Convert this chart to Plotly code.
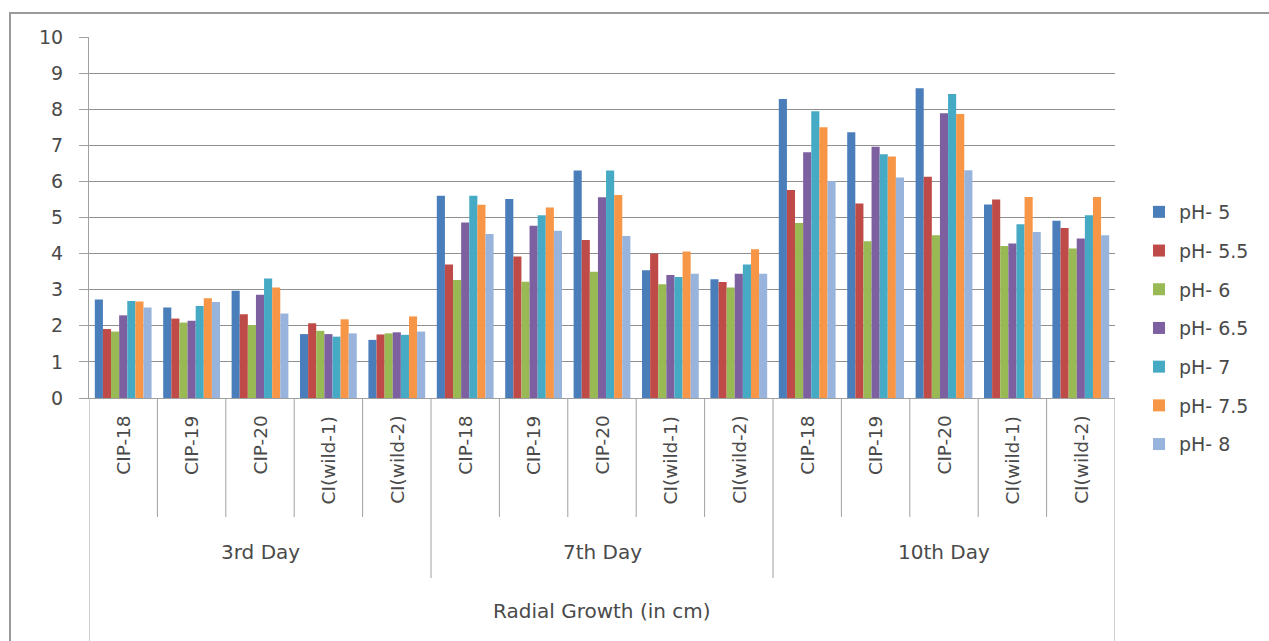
import plotly.graph_objects as go

# ---------------- data ----------------
days = ["3rd Day", "7th Day", "10th Day"]
strains = ["CIP-18", "CIP-19", "CIP-20", "CI(wild-1)", "CI(wild-2)"]
series_names = ["pH- 5", "pH- 5.5", "pH- 6", "pH- 6.5", "pH- 7", "pH- 7.5", "pH- 8"]
colors = ["#4A7EBB", "#BE4B48", "#98B954", "#7D60A0", "#46AAC5", "#F79646", "#98B4DC"]

# values per pH, ordered: 3rd day (5 strains), 7th day (5 strains), 10th day (5 strains)
ph_5   = [2.73, 2.51, 2.97, 1.77, 1.61,  5.60, 5.51, 6.30, 3.54, 3.29,  8.28, 7.36, 8.58, 5.36, 4.91]
ph_5_5 = [1.91, 2.20, 2.32, 2.07, 1.76,  3.70, 3.92, 4.38, 4.00, 3.21,  5.76, 5.39, 6.13, 5.50, 4.71]
ph_6   = [1.84, 2.09, 2.02, 1.86, 1.79,  3.27, 3.22, 3.50, 3.15, 3.06,  4.85, 4.34, 4.51, 4.21, 4.14]
ph_6_5 = [2.29, 2.14, 2.86, 1.77, 1.82,  4.86, 4.77, 5.56, 3.41, 3.44,  6.81, 6.96, 7.89, 4.28, 4.42]
ph_7   = [2.69, 2.55, 3.31, 1.70, 1.75,  5.60, 5.06, 6.30, 3.35, 3.70,  7.94, 6.75, 8.42, 4.81, 5.06]
ph_7_5 = [2.67, 2.76, 3.06, 2.18, 2.26,  5.35, 5.28, 5.62, 4.06, 4.12,  7.50, 6.69, 7.87, 5.57, 5.57]
ph_8   = [2.51, 2.66, 2.34, 1.79, 1.84,  4.54, 4.63, 4.49, 3.44, 3.44,  6.01, 6.11, 6.31, 4.60, 4.51]
all_series = [ph_5, ph_5_5, ph_6, ph_6_5, ph_7, ph_7_5, ph_8]

y_ticks = [0, 1, 2, 3, 4, 5, 6, 7, 8, 9, 10]
axis_title = "Radial Growth (in cm)"

# ---------------- layout geometry ----------------
W, H = 1269, 641
L, R, T, B = 89, 1115, 37, 398
FONT = "DejaVu Sans"
TXT = "#4a4a4a"
GRID = "#8f8f8f"

def py(px):
    return 1 - (px - T) / (B - T)

def pxx(px):
    return (px - L) / (R - L)

n_cat = len(days) * len(strains)
xpos = list(range(n_cat))
cat_labels = [s for d in days for s in strains]

fig = go.Figure()
for i, (name, vals) in enumerate(zip(series_names, all_series)):
    fig.add_trace(go.Bar(
        x=xpos, y=vals, name=name,
        marker=dict(color=colors[i], line=dict(width=0)),
        legendgroup=name,
    ))

annotations = []
for i, lab in enumerate(cat_labels):
    annotations.append(dict(
        x=i, y=py(415), xref="x", yref="paper", text=lab, showarrow=False,
        textangle=-90, xanchor="center", yanchor="top", borderpad=0,
        font=dict(family=FONT, size=18.5, color=TXT)))
for j, d in enumerate(days):
    annotations.append(dict(
        x=j * len(strains) + (len(strains) - 1) / 2, y=py(552), xref="x", yref="paper",
        text=d, showarrow=False, xanchor="center", yanchor="middle",
        font=dict(family=FONT, size=20, color=TXT)))
annotations.append(dict(
    x=(n_cat - 1) / 2, y=py(611), xref="x", yref="paper", text=axis_title,
    showarrow=False, xanchor="center", yanchor="middle",
    font=dict(family=FONT, size=20, color=TXT)))

shapes = []
line_style = dict(color="#a0a0a0", width=1)
for k in range(n_cat + 1):
    xb = k - 0.5
    if k == 0 or k == n_cat:
        y_end = 650
    elif k % len(strains) == 0:
        y_end = 578
    else:
        y_end = 517
    shapes.append(dict(type="line", xref="x", yref="paper", x0=xb, x1=xb,
                       y0=py(B), y1=py(y_end), line=line_style))
# outer chart border
shapes.append(dict(type="rect", xref="paper", yref="paper",
                   x0=pxx(10), x1=pxx(1300), y0=py(13), y1=py(700),
                   line=dict(color="#9a9a9a", width=2), fillcolor="rgba(0,0,0,0)",
                   layer="below"))

fig.update_layout(
    width=W, height=H,
    margin=dict(l=L, r=W - R, t=T, b=H - B),
    paper_bgcolor="white", plot_bgcolor="white",
    barmode="group", bargap=0.17, bargroupgap=0,
    showlegend=True,
    legend=dict(x=pxx(1139), y=py(193), xanchor="left", yanchor="top",
                font=dict(family=FONT, size=19, color=TXT),
                tracegroupgap=11, itemwidth=30, bgcolor="rgba(0,0,0,0)"),
    xaxis=dict(range=[-0.5, n_cat - 0.5], showticklabels=False, showgrid=False,
               zeroline=False, showline=True, linecolor="#a0a0a0", ticks="",
               fixedrange=True),
    yaxis=dict(range=[0, 10], tickvals=y_ticks, ticktext=[str(v) for v in y_ticks],
               showgrid=True, gridcolor=GRID, gridwidth=1, zeroline=False,
               showline=True, linecolor="#a0a0a0", ticks="outside", ticklen=9,
               tickcolor="#a0a0a0", ticklabelstandoff=12,
               tickfont=dict(family=FONT, size=19, color=TXT)),
    annotations=annotations,
    shapes=shapes,
)

fig.write_html("out.html")
